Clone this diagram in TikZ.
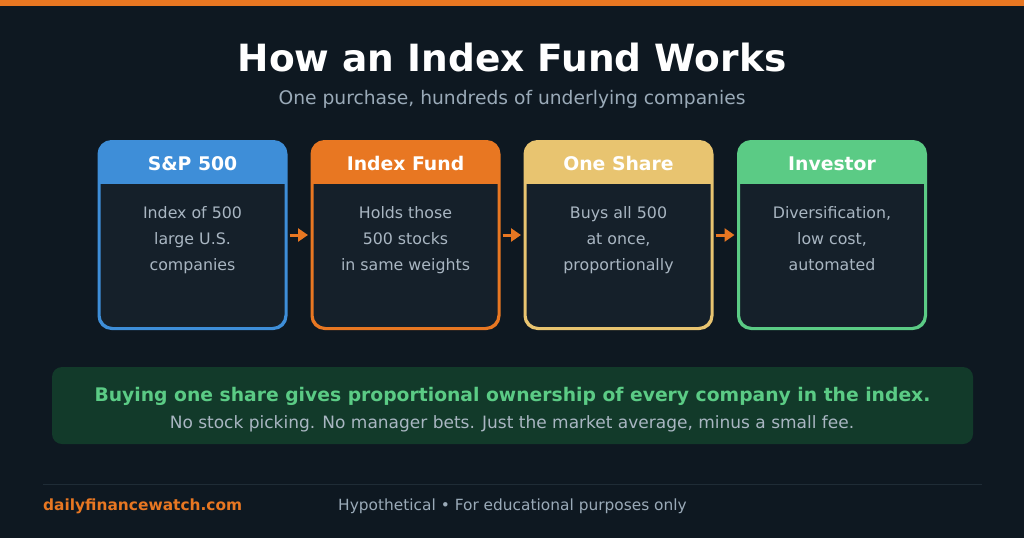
\documentclass[tikz,border=0pt]{standalone}
\usepackage{fontspec}
\setmainfont{DejaVu Sans}
\usetikzlibrary{arrows.meta,calc}
\definecolor{bg}{HTML}{0E1821}
\definecolor{bodyfill}{HTML}{15202A}
\definecolor{cblue}{HTML}{3E8ED8}
\definecolor{corange}{HTML}{E87722}
\definecolor{cyellow}{HTML}{E8C470}
\definecolor{cgreen}{HTML}{5BCB85}
\definecolor{txtgray}{HTML}{A9B6C2}
\definecolor{subgray}{HTML}{9AAAB8}
\definecolor{bannerfill}{HTML}{123A2A}
\definecolor{footline}{HTML}{1F2C36}
\tikzset{
  cardbox/.style={draw=#1, line width=2pt, fill=bodyfill, rounded corners=13pt,
    minimum width=186pt, minimum height=186pt, inner sep=0pt},
  cardtitle/.style={text=white, font=\bfseries\fontsize{18.8}{22}\selectfont},
  cardbody/.style={text=txtgray, align=center, font=\fontsize{15.8}{26}\selectfont},
  flowarrow/.style={draw=corange, line width=3pt, -{Triangle[length=10pt,width=13pt]},
    shorten <=3pt, shorten >=3.5pt}
}
\begin{document}
\begin{tikzpicture}[x=1pt,y=-1pt]
\useasboundingbox (0,0) rectangle (1024,538);
\fill[bg] (0,0) rectangle (1024,538);
\fill[corange] (0,0) rectangle (1024,6);
\node[text=white, font=\bfseries\fontsize{37.5}{44}\selectfont] (title) at (512,58) {How an Index Fund Works};
\node[text=subgray, font=\fontsize{18.7}{22}\selectfont] (subtitle) at (512,99) {One purchase, hundreds of underlying companies};
% cards
\foreach \i/\x/\c/\t/\b in {
  1/192.5/cblue/{S\&P 500}/{Index of 500\\large U.S.\\companies},
  2/405.5/corange/{Index Fund}/{Holds those\\500 stocks\\in same weights},
  3/618.5/cyellow/{One Share}/{Buys all 500\\at once,\\proportionally},
  4/832/cgreen/{Investor}/{Diversification,\\low cost,\\automated}}{
  \node[cardbox=\c] (b\i) at (\x,235) {};
  \begin{scope}
    \clip[rounded corners=13pt] (b\i.south west) rectangle (b\i.north east);
    \fill[\c] (b\i.north west) rectangle ($(b\i.north east)+(0,43)$);
  \end{scope}
  \draw[\c, line width=2pt, rounded corners=13pt] (b\i.south west) rectangle (b\i.north east);
  \node[cardtitle] (h\i) at ($(b\i.north)+(0,22.5)$) {\t};
  \node[cardbody, anchor=north] (t\i) at ($(b\i.north)+(0,62)$) {\b};
}
\draw[flowarrow] (b1.east) -- (b2.west);
\draw[flowarrow] (b2.east) -- (b3.west);
\draw[flowarrow] (b3.east) -- (b4.west);
% banner
\node[fill=bannerfill, rounded corners=10pt, minimum width=921pt, minimum height=77pt, inner sep=0pt] (banner) at (512.5,405.5) {};
\node[text=cgreen, font=\bfseries\fontsize{18.75}{22}\selectfont] (bl1) at (512.5,396) {Buying one share gives proportional ownership of every company in the index.};
\node[text=txtgray, font=\fontsize{17}{20}\selectfont] (bl2) at (512,424) {No stock picking. No manager bets. Just the market average, minus a small fee.};
% footer
\coordinate (fl) at (43,484);
\coordinate (fr) at (982,484);
\draw[footline, line width=1pt] (fl) -- (fr);
\node[text=corange, anchor=west, inner sep=0pt, font=\bfseries\fontsize{15.4}{18}\selectfont] (site) at (43,506) {dailyfinancewatch.com};
\node[text=subgray, anchor=west, inner sep=0pt, font=\fontsize{15.4}{18}\selectfont] (note) at (338,506) {Hypothetical • For educational purposes only};
\end{tikzpicture}
\end{document}
